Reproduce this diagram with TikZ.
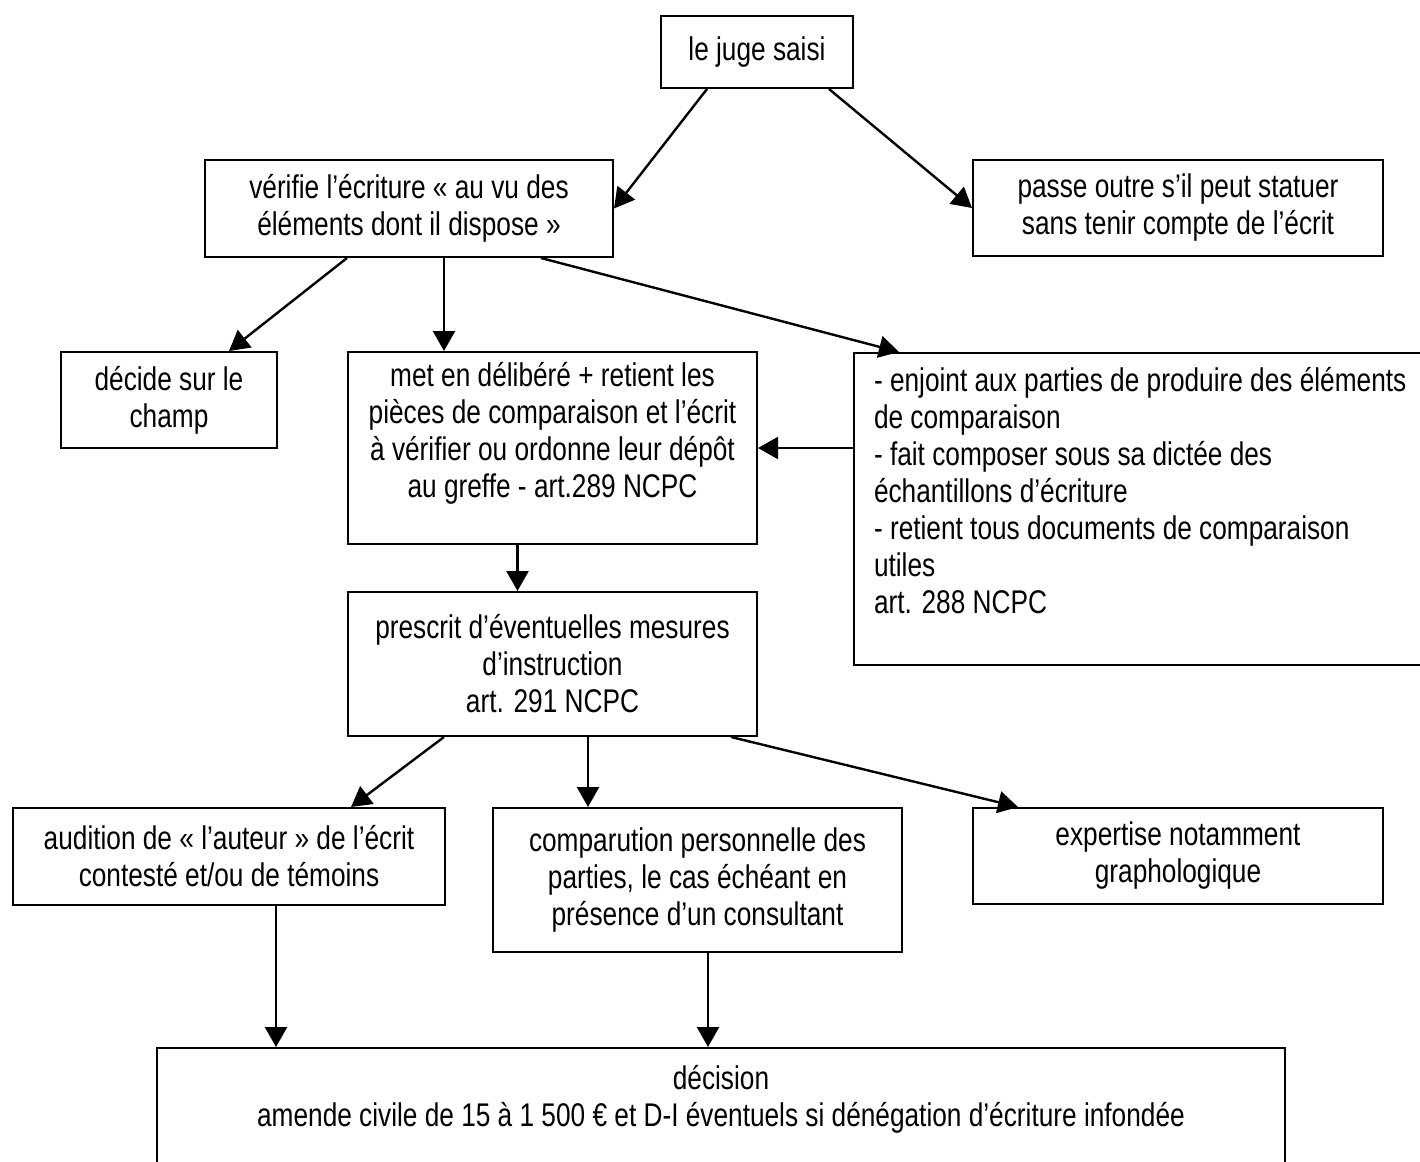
\documentclass[tikz,border=0pt]{standalone}
\usepackage{fontspec}
\setmainfont[FakeStretch=0.8]{Liberation Sans}
\usetikzlibrary{calc,positioning,arrows.meta}
\definecolor{ink}{gray}{0.0}
\newcommand{\boxfont}{\fontsize{16.4pt}{18.5pt}\selectfont}

\begin{document}
\begin{tikzpicture}[x=0.5pt,y=-0.5pt,
  box/.style={draw=ink,line width=1pt,inner sep=0pt,align=center,font=\boxfont},
  arr/.style={ink,line width=1.2pt,-{Triangle[length=10pt,width=11pt]}}]
  \useasboundingbox (0,0) rectangle (1420,1162);
  % boxes
  \node[box,minimum width=96pt,minimum height=36pt] (juge) at (757,52) {le juge saisi};
  \node[box,minimum width=204pt,minimum height=48.5pt] (verif) at (409,208.5)
    {vérifie l’écriture « au vu des\\éléments dont il dispose »};
  \node[box,minimum width=205pt,minimum height=48pt] (passe) at (1178,208)
    {passe outre s’il peut statuer\\sans tenir compte de l’écrit};
  \node[box,minimum width=108pt,minimum height=48pt] (decide) at (169,400)
    {décide sur le\\champ};
  \node[box,minimum width=204.5pt,minimum height=96pt] (met) at (552.5,448)
    {met en délibéré + retient les\\pièces de comparaison et l’écrit\\à vérifier ou ordonne leur dépôt\\au greffe - art.289 NCPC\\~};
  \node[box,anchor=north west,minimum height=156pt,inner xsep=10pt,text width=300pt,align=flush left] (enjoint) at (853,352)
    {- enjoint aux parties de produire des éléments\\de comparaison\\- fait composer sous sa dictée des\\échantillons d’écriture\\- retient tous documents de comparaison\\utiles\\art. 288 NCPC\\~};
  \node[box,minimum width=204.5pt,minimum height=72pt] (prescrit) at (552.5,664)
    {prescrit d’éventuelles mesures\\d’instruction\\art. 291 NCPC};
  \node[box,minimum width=216pt,minimum height=48.5pt] (audition) at (229,856.5)
    {audition de « l’auteur » de l’écrit\\contesté et/ou de témoins};
  \node[box,minimum width=204.5pt,minimum height=72pt] (comparution) at (697.5,880)
    {comparution personnelle des\\parties, le cas échéant en\\présence d’un consultant};
  \node[box,minimum width=205pt,minimum height=48pt] (expertise) at (1178,856)
    {expertise notamment\\graphologique};
  \node[box,minimum width=564pt,minimum height=66pt] (decision) at (721,1114)
    {décision\\amende civile de 15 à 1 500 € et D-I éventuels si dénégation d’écriture infondée\\~};
  % arrows
  \draw[arr] ($(juge.south west)+(47,0)$) -- (verif.east);
  \draw[arr] ($(juge.south west)+(169,0)$) -- (passe.west);
  \draw[arr] ($(verif.south west)+(143,0)$) -- ($(decide.north west)+(169,0)$);
  \draw[arr] ($(verif.south west)+(240,0)$) coordinate (v1) -- (v1 |- met.north);
  \draw[arr] ($(verif.south west)+(337,0)$) -- ($(enjoint.north west)+(46,0)$);
  \draw[arr] (met.east -| enjoint.west) -- (met.east);
  \draw[arr] ($(met.south)+(-35,0)$) coordinate (m1) -- (m1 |- prescrit.north);
  \draw[arr] ($(prescrit.south west)+(97,0)$) -- ($(audition.north west)+(339,0)$);
  \draw[arr] ($(prescrit.south west)+(241,0)$) coordinate (p1) -- (p1 |- comparution.north);
  \draw[arr] ($(prescrit.south west)+(384,0)$) -- ($(expertise.north west)+(46,0)$);
  \draw[arr] ($(audition.south west)+(264,0)$) coordinate (a1) -- (a1 |- decision.north);
  \draw[arr] ($(comparution.south west)+(216,0)$) coordinate (c1) -- (c1 |- decision.north);
\end{tikzpicture}
\end{document}
